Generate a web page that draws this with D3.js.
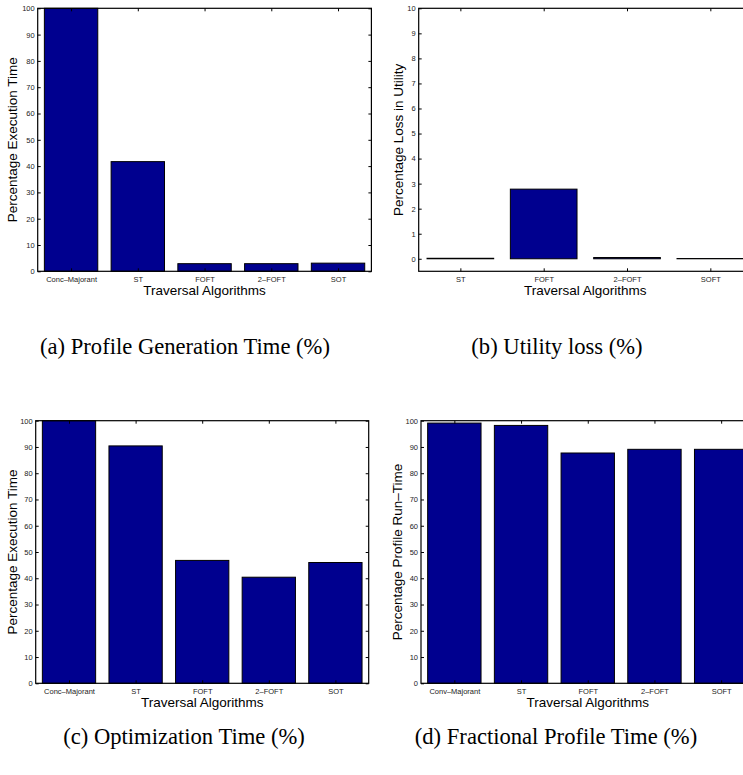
<!DOCTYPE html>
<html>
<head>
<meta charset="utf-8">
<script src="https://cdn.jsdelivr.net/npm/d3@7"></script>
<style>
  body { margin: 0; background: #fff; }
  svg { display: block; }
  .tick text { font-family: "Liberation Sans", Arial, sans-serif; font-size: 7.5px; fill: #222; }
  .tick line { stroke: #000; stroke-width: 1; }
  .alabel { font-family: "Liberation Sans", Arial, sans-serif; font-size: 13.5px; fill: #000; }
  .caption { font-family: "Liberation Serif", "Times New Roman", serif; font-size: 22.6px; fill: #000; }
</style>
</head>
<body>
<div id="chart"></div>
<script>
// data
var catsA = ["Conc\u2013Majorant", "ST", "FOFT", "2\u2013FOFT", "SOT"];
var valsA = [100, 41.7, 2.9, 2.9, 3.1];

var catsB = ["ST", "FOFT", "2\u2013FOFT", "SOFT"];
var valsB = [0.02, 2.78, 0.05, 0.01];

var catsC = ["Conc\u2013Majorant", "ST", "FOFT", "2\u2013FOFT", "SOT"];
var valsC = [100, 90.4, 46.8, 40.4, 46.0];

var catsD = ["Conv\u2013Majorant", "ST", "FOFT", "2\u2013FOFT", "SOFT"];
var valsD = [99.1, 98.2, 87.7, 89.1, 89.1];

var ticks100 = d3.range(0, 101, 10);
var ticks10 = d3.range(0, 11, 1);

var W = 743, H = 775;

var svg = d3.select("#chart")
    .append("svg")
    .attr("width", W)
    .attr("height", H);

function drawPanel(p) {
    var n = p.cats.length;
    var x = d3.scaleLinear()
        .domain([0.5, n + 0.5])
        .range([p.x0, p.x1]);
    var y = d3.scaleLinear()
        .domain(p.ylim)
        .range([p.y1, p.y0]);
    var g = svg.append("g");

    // bars
    g.selectAll(".bar")
        .data(p.vals)
        .enter()
        .append("rect")
        .attr("class", "bar")
        .attr("x", function (d, i) { return x(i + 1 - 0.4); })
        .attr("width", function (d, i) { return x(i + 1 + 0.4) - x(i + 1 - 0.4); })
        .attr("y", function (d) { return y(d); })
        .attr("height", function (d) { return y(0) - y(d); })
        .style("fill", "#00008f")
        .style("stroke", "#000")
        .style("stroke-width", 1);

    var xt = d3.range(1, n + 1);
    // inward ticks on all four sides, like matlab
    g.append("g")
        .attr("transform", "translate(0," + p.y1 + ")")
        .call(d3.axisBottom(x).tickValues(xt).tickSize(-3).tickSizeOuter(0).tickPadding(5)
            .tickFormat(function (d) { return p.cats[d - 1]; }))
        .call(function (s) { s.select(".domain").remove(); });
    g.append("g")
        .attr("transform", "translate(0," + p.y0 + ")")
        .call(d3.axisTop(x).tickValues(xt).tickSize(-3).tickSizeOuter(0).tickFormat(""))
        .call(function (s) { s.select(".domain").remove(); });
    g.append("g")
        .attr("transform", "translate(" + p.x0 + ",0)")
        .call(d3.axisLeft(y).tickValues(p.yticks).tickSize(-3).tickSizeOuter(0).tickPadding(3))
        .call(function (s) { s.select(".domain").remove(); });
    g.append("g")
        .attr("transform", "translate(" + p.x1 + ",0)")
        .call(d3.axisRight(y).tickValues(p.yticks).tickSize(-3).tickSizeOuter(0).tickFormat(""))
        .call(function (s) { s.select(".domain").remove(); });

    // axes box
    g.append("rect")
        .attr("x", p.x0)
        .attr("y", p.y0)
        .attr("width", p.x1 - p.x0)
        .attr("height", p.y1 - p.y0)
        .style("fill", "none")
        .style("stroke", "#000")
        .style("stroke-width", 1.2);

    g.append("text")
        .attr("class", "alabel")
        .attr("x", (p.x0 + p.x1) / 2)
        .attr("y", p.y1 + 24)
        .attr("text-anchor", "middle")
        .text("Traversal Algorithms");

    g.append("text")
        .attr("class", "alabel")
        .attr("transform", "translate(" + p.ylabX + "," + (p.y0 + p.y1) / 2 + ") rotate(-90)")
        .attr("text-anchor", "middle")
        .text(p.ylabel);

    svg.append("text")
        .attr("class", "caption")
        .attr("x", p.capX)
        .attr("y", p.capY)
        .attr("text-anchor", "middle")
        .text(p.caption);
}

drawPanel({
    cats: catsA, vals: valsA, ylim: [0, 100], yticks: ticks100,
    x0: 37.7, x1: 371.4, y0: 8.3, y1: 271.3, ylabX: 16.5,
    ylabel: "Percentage Execution Time",
    caption: "(a) Profile Generation Time (%)", capX: 185, capY: 354
});
drawPanel({
    cats: catsB, vals: valsB, ylim: [-0.5, 10], yticks: ticks10,
    x0: 418.7, x1: 752, y0: 8.3, y1: 271.3, ylabX: 403,
    ylabel: "Percentage Loss in Utility",
    caption: "(b) Utility loss (%)", capX: 557, capY: 354
});
drawPanel({
    cats: catsC, vals: valsC, ylim: [0, 100], yticks: ticks100,
    x0: 35.7, x1: 368.7, y0: 420.7, y1: 683.3, ylabX: 16.5,
    ylabel: "Percentage Execution Time",
    caption: "(c) Optimization Time (%)", capX: 184, capY: 744
});
drawPanel({
    cats: catsD, vals: valsD, ylim: [0, 100], yticks: ticks100,
    x0: 421, x1: 754.5, y0: 420.7, y1: 683.3, ylabX: 401.5,
    ylabel: "Percentage Profile Run\u2013Time",
    caption: "(d) Fractional Profile Time (%)", capX: 556, capY: 744
});
</script>
</body>
</html>
